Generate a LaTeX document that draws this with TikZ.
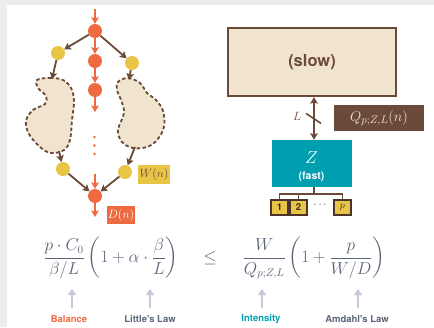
\documentclass[tikz,border=0pt]{standalone}
\usepackage{fontspec}
\usepackage{amsmath}
\newfontfamily\heros{TeX Gyre Heros}
\usetikzlibrary{arrows.meta,calc}
\definecolor{cred}{HTML}{EE6A40}
\definecolor{cyel}{HTML}{E8C547}
\definecolor{cbrown}{HTML}{6B4A3A}
\definecolor{cbeige}{HTML}{F0E4CF}
\definecolor{cteal}{HTML}{009FB0}
\definecolor{cgray}{HTML}{5A6478}
\definecolor{clav}{HTML}{C9C8DA}
\definecolor{cbg}{HTML}{EDEDED}
\tikzset{
  rdot/.style={circle,fill=cred,minimum size=14pt,inner sep=0pt},
  ydot/.style={circle,fill=cyel,minimum size=14pt,inner sep=0pt},
  rarr/.style={draw=cred,line width=1.8pt,-{Stealth[length=6.5pt,width=7.5pt,inset=1.2pt]}},
  barr/.style={draw=cbrown,line width=1.8pt,-{Stealth[length=6.5pt,width=7.5pt,inset=1.2pt]}},
  larr/.style={draw=clav,line width=2.5pt,-{Triangle[length=6pt,width=8pt]}},
  blob/.style={draw=cbrown,fill=cbeige,line width=1.8pt,dash pattern=on 3.5pt off 2.4pt},
  lab/.style={font=\heros\bfseries\fontsize{9.5}{11}\selectfont,inner sep=0pt},
  pbox/.style={draw=cbrown!70!black,line width=1.1pt,fill=cyel,minimum width=17pt,minimum height=15pt,inner sep=0pt,font=\heros\bfseries\fontsize{9.5}{10}\selectfont,text=cbrown!60!black},
}
\begin{document}
\begin{tikzpicture}[x=1pt,y=-1pt]
\useasboundingbox (0,0) rectangle (434,327);
\fill[cbg] (0,0) rectangle (434,327);
\fill[white] (7,5) rectangle (434,327);

% ---- left graph
\coordinate (tin) at (95,9);
\node[rdot] (r1) at (95,31) {};
\node[rdot] (r2) at (95,61) {};
\node[rdot] (r3) at (95,90) {};
\coordinate (r3out) at (95,112);
\node[ydot] (yl) at (58,53) {};
\node[ydot] (yr) at (132,63) {};
\node[ydot] (ybl) at (63,169) {};
\node[ydot] (ybr) at (125,172) {};
\node[rdot] (rb) at (95,196) {};
\coordinate (rbin) at (95,174);
\coordinate (rbout) at (95,217);

\draw[blob] plot[smooth cycle,tension=0.6] coordinates {(37,80) (50,78) (63,80) (71,88) (74,101) (72,120) (70,140) (64,150) (51,153) (40,147) (29,134) (26,121) (33,110) (45,104) (46,96) (38,88)};
\draw[blob] plot[smooth cycle,tension=0.6] coordinates {(118,82) (128,78) (140,83) (147,93) (156,100) (163,111) (164,127) (157,140) (147,147) (133,148) (122,142) (118,130) (124,113) (121,100) (117,90)};
\coordinate (blt) at (52,79);
\coordinate (blb) at (59,151);
\coordinate (brt) at (129,80);
\coordinate (brb) at (135,147);

\draw[rarr] (tin) -- (r1);
\draw[rarr] (r1) -- (r2);
\draw[rarr] (r2) -- (r3);
\draw[rarr] (r3) -- (r3out);
\draw[rarr] (rbin) -- (rb);
\draw[rarr] (rb) -- (rbout);
\draw[barr] (r1) -- (yl);
\draw[barr] (r1) -- (yr);
\draw[barr] (yl) -- (blt);
\draw[barr] (yr) -- (brt);
\draw[barr] (blb) -- (ybl);
\draw[barr] (brb) -- (ybr);
\draw[barr] (ybl) -- (rb);
\draw[barr] (ybr) -- (rb);
\foreach \yy in {137,145.5,154} \fill[cred] (94.5,\yy) circle (1.3pt);

\node[fill=cyel,minimum width=32pt,minimum height=19pt,inner sep=0pt,text=cbrown,font=\fontsize{11.5}{12}\selectfont] (wn) at (154,174.5) {$W(n)$};
\node[fill=cred,minimum width=28pt,minimum height=18pt,inner sep=0pt,text=white,font=\fontsize{11.5}{12}\selectfont] (dn) at (121,215) {$D(n)$};

% ---- right side
\node[draw=cbrown,line width=2.2pt,fill=cbeige,minimum width=168pt,minimum height=68pt,inner sep=0pt,text=cbrown,font=\heros\bfseries\fontsize{16.5}{18}\selectfont] (slow) at (312,62) {(slow)};
\node[fill=cteal,minimum width=80pt,minimum height=47pt,inner sep=0pt] (fast) at (311.5,163.5) {};
\node[text=white,font=\fontsize{17}{18}\selectfont,inner sep=0pt] (zl) at (311.5,158) {$Z$};
\node[text=white,font=\heros\bfseries\fontsize{10.5}{11}\selectfont,inner sep=0pt] (fl) at (311.5,177) {(fast)};
\draw[cbrown,line width=1.8pt,{Stealth[length=6.5pt,width=7.5pt,inset=1.2pt]}-{Stealth[length=6.5pt,width=7.5pt,inset=1.2pt]}] (slow.south -| 314,0) -- (fast.north -| 314,0) coordinate[pos=0.5] (mid);
\draw[cbrown,line width=1.6pt] ($(mid)+(-8,-5)$) -- ($(mid)+(7,5)$);
\node[text=cbrown,font=\fontsize{11.5}{12}\selectfont,inner sep=0pt] (ll) at (297,116) {$L$};
\node[fill=cbrown,minimum width=90pt,minimum height=26pt,inner sep=0pt,text=cbeige,font=\fontsize{15.5}{16}\selectfont] (qb) at (379,118) {$Q_{p;Z,L}(n)$};

\node[pbox] (b1) at (279.5,207.5) {1};
\node[pbox] (b2) at (298.5,207.5) {2};
\node[pbox,font=\fontsize{10}{10}\selectfont] (bp) at (342.5,207.5) {$p$};
\node[text=cbrown,inner sep=0pt,font=\fontsize{11}{10}\selectfont] (bd) at (321,205) {$\cdots$};
\coordinate (tj) at (314,194);
\draw[cbrown,line width=1.1pt] (fast.south -| tj) -- (tj);
\draw[cbrown,line width=1.1pt] (b1.north) |- (tj) -| (bp.north);
\draw[cbrown,line width=1.1pt] (b2.north) -- (b2.north |- tj);

% ---- equation
\begin{scope}[every node/.style={text=cgray,inner sep=0pt,font=\fontsize{16}{18}\selectfont}]
\node (eqL) at (111,258) {$\displaystyle \frac{p\cdot C_0}{\beta/L}\left(1+\alpha\cdot\frac{\beta}{L}\right)$};
\node (eqM) at (210,258) {$\le$};
\node (eqR) at (314,258) {$\displaystyle \frac{W}{Q_{p;Z,L}}\left(1+\frac{p}{W/D}\right)$};
\end{scope}

\coordinate (a1) at (72,308); \coordinate (a1t) at (72,289);
\coordinate (a2) at (150,308); \coordinate (a2t) at (150,289);
\coordinate (a3) at (262,308); \coordinate (a3t) at (262,289);
\coordinate (a4) at (358,308); \coordinate (a4t) at (358,289);
\draw[larr] (a1) -- (a1t);
\draw[larr] (a2) -- (a2t);
\draw[larr] (a3) -- (a3t);
\draw[larr] (a4) -- (a4t);
\node[lab,text=cred] (t1) at (69,319) {Balance};
\node[lab,text=cgray] (t2) at (150,319) {Little's Law};
\node[lab,text=cteal] (t3) at (261,319) {Intensity};
\node[lab,text=cgray] (t4) at (357,319) {Amdahl's Law};
\end{tikzpicture}
\end{document}
